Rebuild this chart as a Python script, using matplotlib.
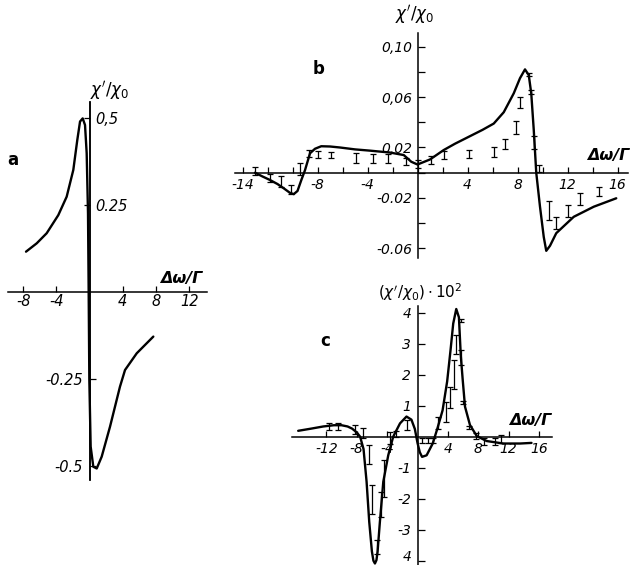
import matplotlib
matplotlib.use("Agg")
import matplotlib.pyplot as plt

W, H = 639, 565

# ---------------- data ----------------
# panel a : theoretical dispersion curve
a_x = [-7.65, -6.36, -5.16, -3.76, -2.75, -1.95, -1.47, -1.14, -0.82, -0.54, -0.34,
       -0.18, -0.10, -0.02, 0.14, 0.46, 0.87, 1.47, 2.47, 3.67, 4.28, 5.69, 7.69]
a_y = [0.115, 0.139, 0.168, 0.22, 0.273, 0.35, 0.436, 0.489, 0.498, 0.479, 0.398,
       0.225, 0.0, -0.254, -0.445, -0.503, -0.508, -0.474, -0.388, -0.273, -0.225,
       -0.177, -0.129]
a_xticks = [-8, -4, 4, 8, 12]
a_xticklabels = ["-8", "-4", "4", "8", "12"]
a_yticks_pos = [0.25, 0.5]
a_yticklabels_pos = ["0.25", "0,5"]
a_yticks_neg = [-0.5, -0.25]
a_yticklabels_neg = ["-0.5", "-0.25"]

# panel b : curve + experimental points with error bars
b_x = [-13.0, -12.4, -11.8, -11.2, -10.7, -10.2, -9.9, -9.6, -9.3, -9.0, -8.6, -8.2,
       -7.7, -7.0, -6.2, -5.0, -3.8, -2.2, -1.1, -0.5, 0.0, 0.5, 1.0, 2.1, 3.0, 4.2,
       5.2, 6.1, 6.9, 7.7, 8.2, 8.6, 8.9, 9.1, 9.3, 9.5, 9.8, 10.1, 10.3, 10.6, 11.1,
       12.5, 14.1, 15.9]
b_y = [0.0, -0.003, -0.0058, -0.009, -0.0124, -0.016, -0.017, -0.0145, -0.006, 0.002,
       0.0154, 0.019, 0.021, 0.0208, 0.020, 0.0185, 0.0175, 0.016, 0.014, 0.0087,
       0.0065, 0.0085, 0.0105, 0.018, 0.023, 0.029, 0.034, 0.039, 0.048, 0.063, 0.075,
       0.082, 0.0775, 0.063, 0.034, 0.0, -0.027, -0.051, -0.062, -0.058, -0.048,
       -0.035, -0.027, -0.0203]
b_ex = [-13.0, -11.8, -10.9, -10.1, -9.4, -8.7, -8.0, -6.9, -4.9, -3.6, -2.4, -0.95,
        0.0, 1.05, 2.15, 4.15, 6.1, 7.0, 7.9, 8.2, 8.9, 9.1, 9.3, 9.75, 10.55, 11.05,
        12.0, 13.0, 14.5]
b_ey = [0.0015, -0.004, -0.007, -0.0134, 0.003, 0.0154, 0.0144, 0.014, 0.0114, 0.011,
        0.011, 0.0088, 0.0068, 0.010, 0.014, 0.015, 0.0164, 0.0225, 0.036, 0.0557,
        0.078, 0.064, 0.024, 0.0035, -0.030, -0.040, -0.0305, -0.021, -0.0148]
b_err = [0.0033, 0.003, 0.004, 0.0036, 0.0046, 0.0027, 0.003, 0.0027, 0.004, 0.0035,
         0.0035, 0.0027, 0.0033, 0.0032, 0.0035, 0.003, 0.0042, 0.004, 0.005, 0.0046,
         0.0015, 0.0015, 0.005, 0.0027, 0.0073, 0.005, 0.005, 0.0046, 0.0037]
b_xticks = list(range(-14, 17, 2))
b_xlabeled = {-14: "-14", -8: "-8", -4: "-4", 4: "4", 8: "8", 12: "12", 16: "16"}
b_yticks = [-0.06, -0.04, -0.02, 0.0, 0.02, 0.04, 0.06, 0.08, 0.10]
b_ylabeled = {-0.06: "-0.06", -0.02: "-0.02", 0.02: "0,02", 0.06: "0,06", 0.10: "0,10"}

# panel c : curve + experimental points with error bars (values x 10^2)
c_x = [-15.7, -14.0, -12.4, -11.0, -10.0, -9.2, -8.6, -8.0, -7.55, -7.1, -6.7, -6.35,
       -6.0, -5.8, -5.6, -5.4, -5.25, -4.95, -4.5, -3.85, -3.2, -2.3, -1.45, -0.8,
       -0.35, 0.0, 0.3, 0.6, 1.2, 2.0, 2.6, 3.3, 3.9, 4.35, 4.7, 5.1, 5.45, 5.7, 5.95,
       6.25, 6.9, 7.8, 9.1, 11.3, 13.5, 15.0]
c_y = [0.19, 0.26, 0.33, 0.37, 0.37, 0.33, 0.26, 0.14, 0.0, -0.4, -1.45, -2.75, -3.7,
       -4.0, -4.09, -3.98, -3.7, -2.75, -1.45, -0.6, 0.0, 0.43, 0.65, 0.55, 0.25, -0.2,
       -0.5, -0.65, -0.6, -0.22, 0.25, 0.85, 1.78, 2.8, 3.65, 4.12, 3.85, 2.6, 1.83,
       0.97, 0.38, 0.02, -0.14, -0.22, -0.22, -0.2]
c_ex = [-11.6, -10.4, -8.2, -7.2, -6.34, -5.95, -5.37, -4.85, -4.4, -3.6, -2.8, -1.42,
        0.55, 1.4, 2.1, 2.7, 3.7, 4.3, 4.85, 5.0, 5.7, 5.72, 6.0, 6.8, 7.7, 8.7, 10.2,
        11.0]
c_ey = [0.33, 0.33, 0.24, 0.12, -0.57, -2.02, -3.55, -2.18, -1.35, -0.03, 0.1, 0.37,
        -0.12, -0.12, -0.12, 0.45, 0.8, 1.27, 2.0, 2.98, 3.76, 2.55, 1.1, 0.3, 0.02,
        -0.16, -0.15, -0.08]
c_err = [0.1, 0.1, 0.14, 0.17, 0.3, 0.46, 0.22, 0.4, 0.59, 0.19, 0.1, 0.16, 0.08, 0.08,
         0.08, 0.2, 0.32, 0.33, 0.46, 0.3, 0.05, 0.25, 0.05, 0.05, 0.11, 0.11, 0.11,
         0.13]
c_yticks = [-4, -3, -2, -1, 1, 2, 3, 4]
c_yticklabels = ["4", "-3", "-2", "-1", "1", "2", "3", "4"]
c_xticks = [-12, -8, -4, 4, 8, 12, 16]
c_xticklabels = ["-12", "-8", "-4", "4", "8", "12", "16"]

# ---------------- style ----------------
NUM = dict(family=["Liberation Sans Narrow", "DejaVu Sans"], style="italic")
LAB = dict(family=["DejaVu Sans"], style="italic", weight="bold")
CURVE_LW = 1.7
SPINE_LW = 1.1
ERR_LW = 0.9


def fx(px):
    return px / W


def fy(py):
    return 1 - py / H


def make_axes(left, right, top, bottom, x0, xunit, y0, yunit):
    ax = fig.add_axes([fx(left), fy(bottom), (right - left) / W, (bottom - top) / H])
    ax.set_xlim((left - x0) / xunit, (right - x0) / xunit)
    ax.set_ylim((y0 - bottom) / yunit, (y0 - top) / yunit)
    for s in ("top", "right"):
        ax.spines[s].set_visible(False)
    for s in ("left", "bottom"):
        ax.spines[s].set_position(("data", 0))
        ax.spines[s].set_linewidth(SPINE_LW)
    ax.patch.set_alpha(0)
    return ax


def style_labels(ax, size):
    for t in ax.get_xticklabels() + ax.get_yticklabels():
        t.set_fontfamily(NUM["family"])
        t.set_fontstyle("italic")
        t.set_fontsize(size)


fig = plt.figure(figsize=(W / 100, H / 100), dpi=100)

# ---------------- panel a ----------------
axa = make_axes(8, 207, 101.7, 480, 89.5, 8.3, 291.7, 348)
axa.plot(a_x, a_y, color="black", lw=CURVE_LW, clip_on=False, solid_capstyle="round")
axa.set_xticks(a_xticks, a_xticklabels)
axa.set_yticks(a_yticks_neg, a_yticklabels_neg)
axa.tick_params(axis="x", direction="in", length=4, width=0.9, pad=2)
axa.tick_params(axis="y", direction="in", length=4, width=0.9, pad=5)
style_labels(axa, 10.5)
axr = axa.twinx()
axr.set_ylim(axa.get_ylim())
for s in ("top", "left", "bottom"):
    axr.spines[s].set_visible(False)
axr.spines["right"].set_position(("data", 0))
axr.spines["right"].set_linewidth(SPINE_LW)
axr.set_yticks(a_yticks_pos, a_yticklabels_pos)
axr.tick_params(axis="y", direction="in", length=4, width=0.9, pad=4)
style_labels(axr, 10.5)

fig.text(fx(110), fy(90), r"$\chi'/\chi_0$", fontsize=12, ha="center", va="center")
fig.text(fx(181), fy(279), "Δω/Γ", fontsize=11.5, ha="center", va="center", **LAB)
fig.text(fx(13), fy(160), "a", fontsize=12, ha="center", va="center",
         family="DejaVu Sans", weight="bold")

# ---------------- panel b ----------------
axb = make_axes(235, 628, 33, 258, 417.5, 12.5, 172.7, 1260)
axb.plot(b_x, b_y, color="black", lw=CURVE_LW, clip_on=False, solid_capstyle="round")
axb.errorbar(b_ex, b_ey, yerr=b_err, fmt="none", ecolor="black", elinewidth=ERR_LW,
             capsize=2.3, capthick=ERR_LW, clip_on=False)
axb.set_xticks(b_xticks, [b_xlabeled.get(v, "") for v in b_xticks])
axb.set_yticks(b_yticks, [b_ylabeled.get(round(v, 2), "") for v in b_yticks])
axb.tick_params(axis="x", direction="in", length=4, width=0.9, pad=3.5)
axb.tick_params(axis="y", direction="in", length=5, width=0.9, pad=4)
style_labels(axb, 10)

fig.text(fx(415), fy(15), r"$\chi'/\chi_0$", fontsize=12, ha="center", va="center")
fig.text(fx(608), fy(156), "Δω/Γ", fontsize=11.5, ha="center", va="center", **LAB)
fig.text(fx(319), fy(69), "b", fontsize=12, ha="center", va="center",
         family="DejaVu Sans", weight="bold")

# ---------------- panel c ----------------
axc = make_axes(291.7, 551.7, 306, 565, 417.5, 7.6, 436.7, 31)
axc.plot(c_x, c_y, color="black", lw=CURVE_LW, clip_on=False, solid_capstyle="round")
axc.errorbar(c_ex, c_ey, yerr=c_err, fmt="none", ecolor="black", elinewidth=ERR_LW,
             capsize=1.9, capthick=ERR_LW, clip_on=False)
axc.set_xticks(c_xticks, c_xticklabels)
axc.set_yticks(c_yticks, c_yticklabels)
axc.tick_params(axis="x", direction="in", length=4, width=0.9, pad=3.5)
axc.tick_params(axis="y", direction="in", length=5, width=0.9, pad=4.5)
style_labels(axc, 10)
# lowest label sits at the figure edge: anchor it on its baseline so it stays inside
axc.get_yticklabels()[0].set_verticalalignment("baseline")

fig.text(fx(420), fy(292), r"$(\chi'/\chi_0)\cdot 10^2$", fontsize=11, ha="center",
         va="center")
fig.text(fx(530), fy(421), "Δω/Γ", fontsize=11.5, ha="center", va="center", **LAB)
fig.text(fx(325), fy(341), "c", fontsize=12, ha="center", va="center",
         family="DejaVu Sans", weight="bold")

fig.savefig("out.png", dpi=100, facecolor="white")
